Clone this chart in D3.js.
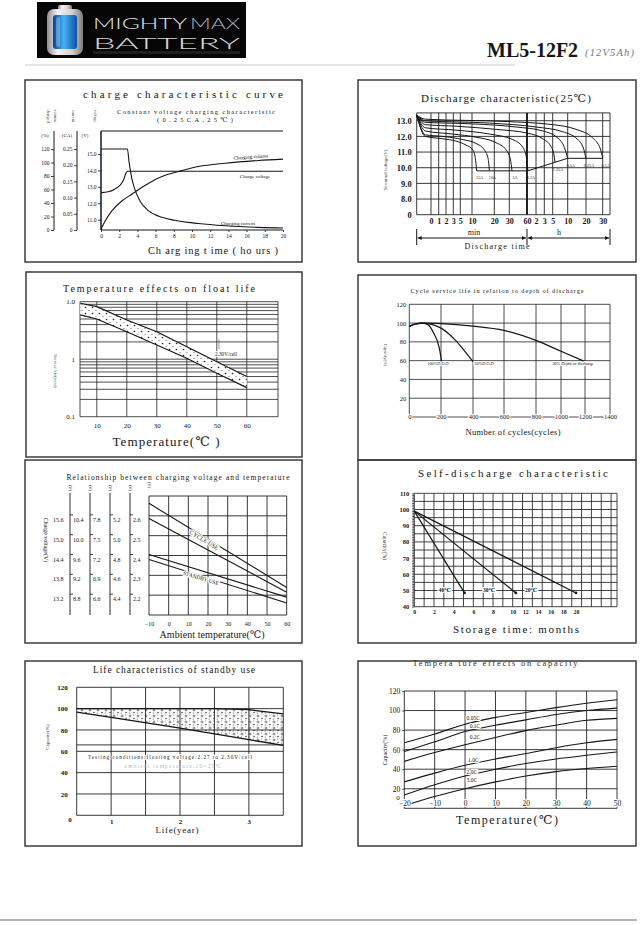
<!DOCTYPE html>
<html>
<head>
<meta charset="utf-8">
<title>ML5-12F2 characteristics</title>
<script src="https://cdn.jsdelivr.net/npm/d3@7"></script>
<style>
  body { margin: 0; background: #fff; }
  svg { display: block; }
</style>
</head>
<body>
<div id="sheet"></div>
<script>
const W = 640, H = 925;
const SERIF = "'Liberation Serif','DejaVu Serif',serif";
const SANS = "Lato,'DejaVu Sans',sans-serif";
const INK = "#161616";

// ------------------ data ------------------

// charge characteristic
const chargeHours = [0, 2, 4, 6, 8, 10, 12, 14, 16, 18, 20];
const chargePctTicks = [0, 20, 40, 60, 80, 100, 120];
const chargeCaTicks = [0, 0.05, 0.10, 0.15, 0.20, 0.25];
const chargeVTicks = [11, 12, 13, 14, 15];
const chargeCurrent = [[0, 0.25], [2.9, 0.25], [3.08, 0.211], [3.38, 0.16], [3.74, 0.124], [4.3, 0.089], [5.2, 0.06], [6.3, 0.043], [8.1, 0.03], [10.7, 0.02], [13.7, 0.013], [17.3, 0.008], [20, 0.006]];
const chargeVoltage = [[0, 12.65], [0.8, 12.7], [1.5, 12.86], [2.1, 13.1], [2.5, 13.45], [2.75, 13.85], [2.9, 13.95], [20, 13.95]];
const chargeVolume = [[0, 1], [0.44, 13], [1.17, 28], [2.28, 43], [3.38, 53], [4.48, 63], [5.58, 72], [7.05, 81], [8.9, 88], [10.7, 94], [13.65, 99], [17.3, 103], [20, 105]];

// discharge characteristic (x in minutes, -1 = axis origin)
const dischargeMinutes = [0, 1, 2, 3, 5, 10, 20, 30, 60, 120, 180, 300, 600, 1200, 1800];
const dischargeTickText = ["0", "1", "2", "3", "5", "10", "20", "30", "60", "2", "3", "5", "10", "20", "30"];
const dischargeVolts = [7, 8, 9, 10, 11, 12, 13];
const dischargeVoltText = ["0", "8.0", "9.0", "10.0", "11.0", "12.0", "13.0"];
const dischargeRates = ["15A", "10A", "5A", "3.2A", "1.25A", "0.5A", "0.25A", "0.1A"];
const dischargeCurves = [
  [[-1, 13.35], [-0.4, 12.0], [1.55, 11.85], [3.76, 11.7], [7.4, 11.45], [10.3, 11.15], [11.5, 10.6], [12.1, 9.8]],
  [[-1, 13.35], [-0.4, 12.1], [1.55, 12.0], [6, 11.8], [11.8, 11.55], [15.5, 11.15], [17.2, 10.6], [17.8, 9.8]],
  [[-1, 13.35], [-0.4, 12.35], [2.9, 12.15], [11.8, 11.95], [21.1, 11.6], [27.8, 11.15], [31.7, 10.55], [34.6, 9.8]],
  [[-1, 13.35], [-0.4, 12.55], [3.76, 12.4], [17.8, 12.15], [35.8, 11.8], [53, 11.3], [58.8, 10.7], [66, 9.8]],
  [[-1, 13.35], [-0.4, 12.75], [3.76, 12.65], [21.1, 12.45], [66, 12.2], [168, 11.85], [276, 11.35], [320, 10.9], [347, 10.35]],
  [[-1, 13.35], [-0.4, 12.9], [10.3, 12.8], [41.5, 12.6], [168, 12.35], [400, 11.9], [533, 11.3], [600, 10.6]],
  [[-1, 13.35], [-0.4, 13.0], [17.8, 12.85], [120, 12.6], [500, 12.3], [927, 11.8], [1124, 11.2], [1200, 10.6]],
  [[-1, 13.35], [-0.4, 13.1], [27.8, 12.95], [300, 12.75], [873, 12.45], [1440, 11.9], [1716, 11.2], [1800, 10.6]]
];

// float life vs temperature
const floatTemps = [10, 20, 30, 40, 50, 60];
const floatLifeTicks = [0.1, 1, 10];
const floatLifeText = ["0.1", "1", "1.0"];
const floatUpper = [[4.5, 9.4], [10, 8.2], [20, 4.8], [30, 3.0], [40, 1.65], [50, 0.9], [60, 0.5]];
const floatLower = [[4.5, 5.9], [10, 5.0], [20, 3.0], [30, 1.77], [40, 1.04], [50, 0.57], [60, 0.32]];

// cycle life vs depth of discharge
const cycleTicks = [0, 200, 400, 600, 800, 1000, 1200, 1400];
const cycleCapTicks = [20, 40, 60, 80, 100, 120];
const dodNames = ["100%D.O.D", "50%D.O.D", "30% Depth of discharge"];
const dodCurves = [
  [[0, 96.5], [40, 99], [73, 100], [115, 98.6], [156, 88.6], [188, 74.5], [204, 59]],
  [[0, 96.5], [40, 99], [80, 100], [188, 95.7], [291, 81.6], [353, 69], [400, 59]],
  [[0, 96.5], [40, 99], [100, 100], [200, 99.5], [400, 96.8], [600, 92.2], [800, 81.6], [1000, 70], [1200, 59]]
];
const dodLabelAt = [[181, 57], [471, 57], [1100, 57]];

// charging voltage vs temperature (per cell)
const ambientTicks = [-10, 0, 10, 20, 30, 40, 50, 60];
const cellCounts = [6, 4, 3, 2, 1];
const perCellVolts = [2.6, 2.5, 2.4, 2.3, 2.2];
const cvCycleHi = [[-10, 2.663], [60, 2.239]];
const cvCycleLo = [[-10, 2.587], [60, 2.215]];
const cvStandbyHi = [[-10, 2.405], [60, 2.19]];
const cvStandbyLo = [[-10, 2.38], [60, 2.161]];

// self discharge
const storageMonths = [0, 2, 4, 6, 8, 10, 12, 14, 16, 18, 20];
const selfCapTicks = [40, 50, 60, 70, 80, 90, 100, 110];
const storageTemps = ["40℃", "30℃", "20℃"];
const selfLines = [[[0, 99], [5.1, 48.5]], [[0, 99], [10.5, 48.5]], [[0, 99], [20, 48.5]]];
const storageLabelAt = [[3.1, 50.3], [7.6, 50.3], [12.9, 50.3]];

// standby life
const lifeYears = [1, 2, 3];
const lifeCapTicks = [0, 20, 40, 60, 80, 100, 120];
const lifeLimit = 66;
const lifeTop = [[0.5, 100], [2.5, 100], [3.0, 99], [3.5, 95]];
const lifeBottom = [[0.5, 96.8], [1, 91.8], [2, 81.8], [3, 70.9], [3.5, 65.6]];

// capacity vs temperature
const capTemps = [-20, -10, 0, 10, 20, 30, 40, 50];
const capTicks = [0, 20, 40, 60, 80, 100, 120];
const capRates = ["0.05C", "0.1C", "0.2C", "1.0C", "2.0C", "3.0C"];
const capCurves = [
  [67, 76, 86, 93, 98, 103, 107.5, 111],
  [58, 68, 78.5, 85, 90.5, 96, 100, 102.5],
  [48, 57, 65, 72.5, 79.5, 85, 90, 92],
  [27, 36, 44, 50.5, 56, 62, 67, 70.5],
  [13.5, 24, 33, 40, 45.8, 50.5, 54.2, 57.6],
  [2.7, 12, 20, 27, 33, 37.5, 40.7, 43]
];
const capLabelAt = [[0.5, 92], [1.5, 84], [1.5, 72.5], [1, 49], [0.5, 37], [0.5, 29]];

// ------------------ helpers ------------------

const svg = d3.select("#sheet").append("svg")
  .attr("width", W).attr("height", H)
  .attr("viewBox", `0 0 ${W} ${H}`);
const defs = svg.append("defs");
svg.append("rect").attr("width", W).attr("height", H).attr("fill", "#fff");
const plain = d3.format("d");

function txt(g, s, x, y, o = {}) {
  const t = g.append("text")
    .attr("x", x).attr("y", y)
    .attr("font-family", o.family || SERIF)
    .attr("font-size", o.size || 7)
    .attr("font-weight", o.bold ? "bold" : null)
    .attr("font-style", o.italic ? "italic" : null)
    .attr("text-anchor", o.anchor || "middle")
    .attr("dominant-baseline", o.baseline || "central")
    .attr("fill", o.fill || INK)
    .text(s);
  if (o.len) t.attr("textLength", o.len).attr("lengthAdjust", o.adjust || "spacing");
  if (o.rot) t.attr("transform", `rotate(${o.rot},${x},${y})`);
  if (o.halo) t.attr("stroke", "#fff").attr("stroke-width", 2.2).attr("paint-order", "stroke");
  return t;
}

function curve(g, sx, sy, pts, o = {}) {
  return g.append("path")
    .attr("d", d3.line().x(d => sx(d[0])).y(d => sy(d[1])).curve(o.curve || d3.curveMonotoneX)(pts))
    .attr("fill", "none")
    .attr("stroke", o.stroke || INK)
    .attr("stroke-width", o.w || 1.1);
}

function grid(g, sx, sy, xs, ys, o = {}) {
  const xr = sx.range(), yr = sy.range();
  const x0 = xr[0], x1 = xr[xr.length - 1], y0 = yr[0], y1 = yr[yr.length - 1];
  g.append("g").selectAll("line").data(xs).join("line")
    .attr("x1", d => sx(d)).attr("x2", d => sx(d))
    .attr("y1", y0).attr("y2", y1)
    .attr("stroke", o.stroke || "#222").attr("stroke-width", o.w || 0.8);
  g.append("g").selectAll("line").data(ys).join("line")
    .attr("x1", x0).attr("x2", x1)
    .attr("y1", d => sy(d)).attr("y2", d => sy(d))
    .attr("stroke", o.stroke || "#222").attr("stroke-width", o.w || 0.8);
}

function styleAxis(sel, size, o = {}) {
  sel.attr("font-family", SERIF).attr("font-size", size);
  sel.select(".domain").remove();
  sel.selectAll(".tick line").attr("stroke", INK).attr("stroke-width", 0.8);
  sel.selectAll(".tick text").attr("fill", INK).attr("font-weight", o.bold ? "bold" : null);
  if (o.halo) sel.selectAll(".tick text").attr("stroke", "#fff").attr("stroke-width", 2.2).attr("paint-order", "stroke");
}

// ------------------ header ------------------

const silver = defs.append("linearGradient").attr("id", "silver").attr("x1", 0).attr("x2", 1);
[["0", "#8d8d8d"], ["0.3", "#f4f4f4"], ["0.7", "#cfcfcf"], ["1", "#7a7a7a"]].forEach(([o, c]) =>
  silver.append("stop").attr("offset", o).attr("stop-color", c));
const blue = defs.append("linearGradient").attr("id", "blue").attr("x1", 0).attr("x2", 1);
[["0", "#0a3f8f"], ["0.45", "#47b4f5"], ["1", "#0b4fa8"]].forEach(([o, c]) =>
  blue.append("stop").attr("offset", o).attr("stop-color", c));

const head = svg.append("g");
head.append("rect").attr("x", 37).attr("y", 2).attr("width", 209).attr("height", 56).attr("fill", "#060606");
head.append("rect").attr("x", 58).attr("y", 5).attr("width", 14).attr("height", 6).attr("rx", 2).attr("fill", "url(#silver)");
head.append("rect").attr("x", 47).attr("y", 9).attr("width", 36).attr("height", 46).attr("rx", 7).attr("fill", "url(#silver)");
head.append("rect").attr("x", 53).attr("y", 15).attr("width", 24).attr("height", 34).attr("rx", 3).attr("fill", "url(#blue)");
head.append("rect").attr("x", 56).attr("y", 17).attr("width", 4).attr("height", 30).attr("rx", 2).attr("fill", "#bfe6ff").attr("opacity", 0.35);
txt(head, "MIGHTY", 93, 29, { size: 16, family: SANS, anchor: "start", baseline: "alphabetic", len: 94, adjust: "spacingAndGlyphs", fill: "#e4e4e4" })
  .attr("font-weight", 300);
txt(head, "MAX", 190, 29, { size: 16, family: SANS, anchor: "start", baseline: "alphabetic", len: 50, adjust: "spacingAndGlyphs", fill: "#a9b4bd" })
  .attr("font-weight", 300);
txt(head, "BATTERY", 93, 48.5, { size: 16, family: SANS, anchor: "start", baseline: "alphabetic", len: 147, adjust: "spacingAndGlyphs", fill: "#d6d6d6" })
  .attr("font-weight", 300);
head.append("rect").attr("x", 93).attr("y", 51).attr("width", 147).attr("height", 3).attr("fill", "#2a2a2a").attr("opacity", 0.7);
txt(head, "ML5-12F2", 487, 57, { size: 20, bold: true, anchor: "start", baseline: "alphabetic" });
txt(head, "(12V5Ah)", 585, 56, { size: 10.5, italic: true, anchor: "start", baseline: "alphabetic", fill: "#7a7a7a", len: 49 });
head.append("line").attr("x1", 25).attr("x2", 515).attr("y1", 65).attr("y2", 65).attr("stroke", "#dcdcdc").attr("stroke-width", 1.5);
svg.append("line").attr("x1", 0).attr("x2", 637).attr("y1", 920).attr("y2", 920).attr("stroke", "#9a9a9a").attr("stroke-width", 1.5);

// panel frames
const frames = [[25, 80, 277, 182], [358, 80, 278, 182], [26, 272, 276, 185], [358, 275, 278, 185],
                [25, 460, 277, 183], [358, 460, 278, 183], [25, 661, 277, 185], [358, 661, 278, 185]];
svg.append("g").selectAll("rect").data(frames).join("rect")
  .attr("x", d => d[0]).attr("y", d => d[1]).attr("width", d => d[2]).attr("height", d => d[3])
  .attr("fill", "none").attr("stroke", "#3c3c3c").attr("stroke-width", 1.5);

// ------------------ 1. charge characteristic ------------------

const p1 = svg.append("g");
const c1x = d3.scaleLinear([0, 20], [101, 283]);
const c1pct = d3.scaleLinear([0, 120], [230, 149]);
const c1ca = d3.scaleLinear([0, 0.25], [230, 149]);
const c1v = d3.scaleLinear([11, 15], [219.7, 154]);
const c1top = 131;

txt(p1, "charge characteristic curve", 183, 94, { size: 11, len: 200 });
txt(p1, "Constant voltage charging characteristic", 196, 111, { size: 6.5, len: 158 });
txt(p1, "(0.25CA,25℃)", 195, 119, { size: 6.5, len: 76 });

p1.append("path")
  .attr("d", `M${c1x(20)},${c1top}H${c1x(0)}V${c1pct(0)}H${c1x(20)}`)
  .attr("fill", "none").attr("stroke", INK).attr("stroke-width", 1);
p1.append("g").attr("transform", `translate(0,${c1pct(0)})`)
  .call(d3.axisBottom(c1x).tickValues(chargeHours).tickSize(2).tickPadding(2))
  .call(styleAxis, 5.5);

[[54, c1pct, chargePctTicks, d => d],
 [77, c1ca, chargeCaTicks, d => d === 0 ? "0" : d.toFixed(2)],
 [101, c1v, chargeVTicks, d => d.toFixed(1)]].forEach(([x, sc, ticks, fmt]) => {
  p1.append("line").attr("x1", x).attr("x2", x).attr("y1", c1top).attr("y2", c1pct(0))
    .attr("stroke", INK).attr("stroke-width", 1);
  p1.append("g").attr("transform", `translate(${x},0)`)
    .call(d3.axisLeft(sc).tickValues(ticks).tickFormat(fmt).tickSize(3).tickPadding(1.5))
    .call(styleAxis, 5.5);
});
txt(p1, "(%)", 45, 135, { size: 5 });
txt(p1, "(CA)", 67, 135, { size: 5 });
txt(p1, "(V)", 85, 135, { size: 5 });
[["charged", 48], ["volume", 55], ["current", 73], ["voltage", 95]].forEach(([s, x]) =>
  txt(p1, s, x, 116, { size: 4.5, rot: 90, fill: "#555" }));

curve(p1, c1x, c1ca, chargeCurrent);
curve(p1, c1x, c1v, chargeVoltage);
curve(p1, c1x, c1pct, chargeVolume);
txt(p1, "Charging volume", 251, 157, { size: 5, rot: -4 });
txt(p1, "Charge voltage", 255, 176, { size: 5 });
txt(p1, "Charging current", 238, 223, { size: 5 });
txt(p1, "Ch arg ing t ime ( ho urs )", 213, 250, { size: 10.5, len: 130 });

// ------------------ 2. discharge characteristic ------------------

const p2 = svg.append("g");
const d2x = d3.scaleLinear()
  .domain([-1, 0, 1, 2, 3, 5, 10, 20, 30, 60, 120, 180, 300, 600, 1200, 1800, 2100])
  .range([416.7, 431, 438.7, 446, 453.3, 460.3, 472, 494.3, 509.3, 527, 536, 544.3, 552.7, 567.7, 586, 602.7, 610]);
const d2y = d3.scaleLinear([7, 13.5], [214.7, 112.9]);

txt(p2, "Discharge characteristic(25℃)", 506, 98, { size: 11, len: 170 });
grid(p2, d2x, d2y, [-1, ...dischargeMinutes, 2100], [...dischargeVolts, 13.5], { w: 0.9 });
p2.append("line").attr("x1", d2x(60)).attr("x2", d2x(60)).attr("y1", d2y(7)).attr("y2", d2y(13.5))
  .attr("stroke", INK).attr("stroke-width", 1.8);

dischargeCurves.forEach(c => curve(p2, d2x, d2y, c, { w: 1 }));
const ends = dischargeCurves.map(c => c[c.length - 1]);
curve(p2, d2x, d2y, ends, { curve: d3.curveLinear, w: 1 });
dischargeRates.forEach((r, i) =>
  txt(p2, r, d2x(ends[i][0]) + 3, d2y(ends[i][1]) + 7, { size: 4.2 }));

p2.append("g").attr("transform", `translate(${d2x(-1)},0)`)
  .call(d3.axisLeft(d2y).tickValues(dischargeVolts).tickFormat((d, i) => dischargeVoltText[i]).tickSize(0).tickPadding(5))
  .call(styleAxis, 8.5, { bold: true });
p2.append("g").attr("transform", `translate(0,${d2y(7)})`)
  .call(d3.axisBottom(d2x).tickValues(dischargeMinutes).tickFormat((d, i) => dischargeTickText[i]).tickSize(0).tickPadding(4))
  .call(styleAxis, 8, { bold: true });
txt(p2, "Terminal voltage(V)", 385, 170, { size: 5, rot: -90, fill: "#333" });

const arr = defs.append("marker").attr("id", "arr").attr("viewBox", "0 0 10 10")
  .attr("refX", 10).attr("refY", 5).attr("markerWidth", 6).attr("markerHeight", 4)
  .attr("orient", "auto-start-reverse");
arr.append("path").attr("d", "M0,0L10,5L0,10z").attr("fill", INK);
[[-1, 60], [60, 2100]].forEach(([a, b]) =>
  p2.append("line").attr("x1", d2x(a) + 1).attr("x2", d2x(b) - 1).attr("y1", 238).attr("y2", 238)
    .attr("stroke", INK).attr("stroke-width", 1)
    .attr("marker-start", "url(#arr)").attr("marker-end", "url(#arr)"));
[-1, 60, 2100].forEach(m =>
  p2.append("line").attr("x1", d2x(m)).attr("x2", d2x(m)).attr("y1", 229).attr("y2", 245)
    .attr("stroke", INK).attr("stroke-width", 1));
txt(p2, "min", 474, 232, { size: 8 });
txt(p2, "h", 559, 232, { size: 8 });
txt(p2, "Discharge time", 497, 246, { size: 8, len: 65 });

// ------------------ 3. float life vs temperature ------------------

const p3 = svg.append("g");
const f3x = d3.scaleLinear([4.4, 70.4], [80, 278]);
const f3y = d3.scaleLog([0.1, 10], [416.7, 301.7]);
const dots = defs.append("pattern").attr("id", "dots").attr("patternUnits", "userSpaceOnUse")
  .attr("width", 7).attr("height", 6);
dots.append("rect").attr("width", 7).attr("height", 6).attr("fill", "#fff");
dots.append("circle").attr("cx", 1.5).attr("cy", 1.5).attr("r", 0.8).attr("fill", "#222");
dots.append("circle").attr("cx", 5).attr("cy", 4.5).attr("r", 0.55).attr("fill", "#555");

txt(p3, "Temperature effects on float life", 159, 288, { size: 10, len: 192 });
const logLines = [0.1, 0.2, 0.3, 0.4, 0.5, 0.6, 0.7, 0.8, 0.9, 1, 2, 3, 4, 5, 6, 7, 8, 9, 10];
grid(p3, f3x, f3y, [4.4, ...floatTemps, 70.4], logLines, { w: 0.8 });
p3.append("path")
  .datum(floatUpper.map((d, i) => [d[0], d[1], floatLower[i][1]]))
  .attr("d", d3.area().x(d => f3x(d[0])).y0(d => f3y(d[2])).y1(d => f3y(d[1])))
  .attr("fill", "url(#dots)");
curve(p3, f3x, f3y, floatUpper, { curve: d3.curveLinear, w: 1.2 });
curve(p3, f3x, f3y, floatLower, { curve: d3.curveLinear, w: 1.2 });
p3.append("line").attr("x1", 219).attr("x2", 219).attr("y1", 339).attr("y2", 349).attr("stroke", "#555").attr("stroke-width", 0.6);
txt(p3, "2.30V/cell", 226, 354, { size: 5.2, halo: true });

p3.append("g").attr("transform", `translate(0,${f3y(0.1)})`)
  .call(d3.axisBottom(f3x).tickValues(floatTemps).tickFormat(plain).tickSize(0).tickPadding(6))
  .call(styleAxis, 7);
p3.append("g").attr("transform", `translate(${f3x(4.4)},0)`)
  .call(d3.axisLeft(f3y).tickValues(floatLifeTicks).tickFormat((d, i) => floatLifeText[i]).tickSize(0).tickPadding(5))
  .call(styleAxis, 7);
txt(p3, "Service life(year)", 55, 371, { size: 4.8, rot: 90, fill: "#444" });
txt(p3, "Temperature(℃ )", 166, 441, { size: 13, len: 107 });

// ------------------ 4. cycle life ------------------

const p4 = svg.append("g");
const c4x = d3.scaleLinear().domain(cycleTicks).range([409.3, 441, 473, 504, 536, 561, 585, 610]);
const c4y = d3.scaleLinear([0, 120], [417, 304.3]);

txt(p4, "Cycle service life in relation to depth of discharge", 497, 290, { size: 6.3, len: 173 });
grid(p4, c4x, c4y, cycleTicks, [0, ...cycleCapTicks], { w: 0.8 });
dodCurves.forEach(c => curve(p4, c4x, c4y, c, { w: 1.2 }));
dodNames.forEach((n, i) =>
  txt(p4, n, c4x(dodLabelAt[i][0]), c4y(dodLabelAt[i][1]), { size: 4.3, halo: true }));
p4.append("g").attr("transform", `translate(${c4x(0)},0)`)
  .call(d3.axisLeft(c4y).tickValues(cycleCapTicks).tickFormat(plain).tickSize(0).tickPadding(3))
  .call(styleAxis, 6.5);
p4.append("g").attr("transform", `translate(0,${c4y(0) - 3})`)
  .call(d3.axisBottom(c4x).tickValues(cycleTicks).tickFormat(plain).tickSize(0).tickPadding(0))
  .call(styleAxis, 6.5, { halo: true });
txt(p4, "Capacity(%)", 385, 355, { size: 4.5, rot: 90, fill: "#444" });
txt(p4, "Number of cycles(cycles)", 513, 432, { size: 8.5, len: 95 });

// ------------------ 5. charging voltage vs temperature ------------------

const p5 = svg.append("g");
const v5x = d3.scaleLinear([-10, 60], [149, 286.7]);
const v5y = d3.scaleLinear([2.1, 2.7], [615, 496]);
const colX = d3.scalePoint().domain(cellCounts).range([50, 130]);

txt(p5, "Relationship between charging voltage and temperature", 178, 477, { size: 7.5, len: 223 });
grid(p5, v5x, v5y, ambientTicks, [2.1, 2.2, 2.3, 2.4, 2.5, 2.6, 2.7], { w: 0.9 });
cellCounts.forEach(n => {
  if (n !== 6) {
    p5.append("line").attr("x1", colX(n)).attr("x2", colX(n)).attr("y1", 493).attr("y2", 615)
      .attr("stroke", INK).attr("stroke-width", 0.9);
    p5.selectAll(null).data(perCellVolts).join("line")
      .attr("x1", colX(n)).attr("x2", colX(n) + 3)
      .attr("y1", d => v5y(d) - 1).attr("y2", d => v5y(d) - 1)
      .attr("stroke", INK).attr("stroke-width", 0.8);
    txt(p5, "(V)", colX(n), 488, { size: 4.5, rot: 90 });
  }
  perCellVolts.forEach(v => txt(p5, (v * n).toFixed(1), colX(n) + 3, v5y(v) + 4, { size: 6, anchor: "start" }));
});
txt(p5, "(V)", v5x(-10), 485, { size: 4.5, rot: 90 });
txt(p5, "Charge voltage(V)", 46, 540, { size: 6, rot: 90 });

[cvCycleHi, cvCycleLo, cvStandbyHi, cvStandbyLo].forEach(l => curve(p5, v5x, v5y, l, { curve: d3.curveLinear, w: 1.1 }));
txt(p5, "CYCLE USE", 204, 540, { size: 6, rot: 31, halo: true });
txt(p5, "STANDBY USE", 201, 578, { size: 5.5, rot: 17, halo: true });

p5.append("g").attr("transform", `translate(0,${v5y(2.1)})`)
  .call(d3.axisBottom(v5x).tickValues(ambientTicks).tickFormat(plain).tickSize(0).tickPadding(7))
  .call(styleAxis, 6);
txt(p5, "Ambient temperature(℃)", 212, 634, { size: 10, len: 105 });

// ------------------ 6. self-discharge ------------------

const p6 = svg.append("g");
const s6x = d3.scaleLinear().domain([0, 10, 20]).range([414.3, 512.7, 576]);
const s6grid = d3.scaleLinear([0, 20.6], [414.3, 617]);
const s6y = d3.scaleLinear([40, 110], [606.7, 493.3]);

txt(p6, "Self-discharge characteristic", 513, 473, { size: 11, len: 190 });
grid(p6, s6grid, s6y, [...d3.range(0, 21), 20.6], d3.range(40, 111, 5), { w: 0.85 });
p6.append("g").attr("transform", `translate(${s6grid(0)},0)`)
  .call(d3.axisLeft(s6y).tickValues(d3.range(40, 111)).tickFormat("").tickSize(2))
  .call(styleAxis, 6);
selfLines.forEach(l => {
  curve(p6, s6x, s6y, l, { curve: d3.curveLinear, w: 1.2 });
  const e = l[l.length - 1];
  p6.append("circle").attr("cx", s6x(e[0])).attr("cy", s6y(e[1])).attr("r", 1.4).attr("fill", INK);
});
storageTemps.forEach((t, i) =>
  txt(p6, t, s6x(storageLabelAt[i][0]), s6y(storageLabelAt[i][1]), { size: 5.5, bold: true, halo: true }));
p6.append("g").attr("transform", `translate(${s6grid(0)},0)`)
  .call(d3.axisLeft(s6y).tickValues(selfCapTicks).tickFormat(plain).tickSize(0).tickPadding(5))
  .call(styleAxis, 6.5, { bold: true });
p6.append("g").attr("transform", `translate(0,${s6y(40)})`)
  .call(d3.axisBottom(s6x).tickValues(storageMonths).tickFormat(plain).tickSize(0).tickPadding(3))
  .call(styleAxis, 5.8, { bold: true });
txt(p6, "Capacity(%)", 385, 546, { size: 5.5, rot: 90, fill: "#333" });
txt(p6, "Storage time: months", 516, 629, { size: 11, len: 126 });

// ------------------ 7. standby life ------------------

const p7 = svg.append("g");
const l7x = d3.scaleLinear([0.5, 3.5], [76.7, 283.3]);
const l7y = d3.scaleLinear([0, 120], [815.3, 687.3]);
const stip = defs.append("pattern").attr("id", "stipple").attr("patternUnits", "userSpaceOnUse")
  .attr("width", 8).attr("height", 6);
stip.append("circle").attr("cx", 2).attr("cy", 2).attr("r", 1).attr("fill", "none").attr("stroke", "#222").attr("stroke-width", 0.55);
stip.append("circle").attr("cx", 6).attr("cy", 4.5).attr("r", 0.75).attr("fill", "#333");
stip.append("circle").attr("cx", 5.5).attr("cy", 1).attr("r", 0.45).attr("fill", "#333");
stip.append("circle").attr("cx", 1.2).attr("cy", 5).attr("r", 0.5).attr("fill", "#333");

txt(p7, "Life characteristics of standby use", 174, 670, { size: 9.5, len: 162 });
grid(p7, l7x, l7y, [0.5, 1, 1.5, 2, 2.5, 3, 3.5], [...lifeCapTicks, lifeLimit], { w: 0.9 });
const lifeBand = lifeTop.map(d => d[0]).concat(lifeBottom.map(d => d[0]))
  .filter((v, i, a) => a.indexOf(v) === i).sort((a, b) => a - b);
const interp = (pts, x) => {
  const i = d3.bisector(d => d[0]).right(pts, x);
  if (i <= 0) return pts[0][1];
  if (i >= pts.length) return pts[pts.length - 1][1];
  const [a, b] = [pts[i - 1], pts[i]];
  return a[1] + (b[1] - a[1]) * (x - a[0]) / (b[0] - a[0]);
};
p7.append("path")
  .datum(lifeBand)
  .attr("d", d3.area().x(d => l7x(d)).y0(d => l7y(interp(lifeBottom, d))).y1(d => l7y(interp(lifeTop, d))))
  .attr("fill", "url(#stipple)");
curve(p7, l7x, l7y, lifeTop, { curve: d3.curveLinear, w: 1.3 });
curve(p7, l7x, l7y, lifeBottom, { curve: d3.curveLinear, w: 1.3 });
txt(p7, "Testing conditions:floating voltage:2.27 to 2.30V/cell", 170, 757, { size: 5.3, len: 164, halo: true });
txt(p7, "ambient temperature:20~25℃", 173, 766, { size: 5.3, len: 97, fill: "#b8b8b8" });

p7.append("g").attr("transform", `translate(${l7x(0.5)},0)`)
  .call(d3.axisLeft(l7y).tickValues(lifeCapTicks.slice(1)).tickFormat(plain).tickSize(0).tickPadding(9))
  .call(styleAxis, 7, { bold: true });
txt(p7, "0", 70, 820, { size: 7, bold: true });
p7.append("g").attr("transform", `translate(0,${l7y(0)})`)
  .call(d3.axisBottom(l7x).tickValues(lifeYears).tickFormat(plain).tickSize(0).tickPadding(4))
  .call(styleAxis, 7, { bold: true });
txt(p7, "Capacity(%)", 47, 737, { size: 5, rot: -90, fill: "#333" });
txt(p7, "Life(year)", 177, 830, { size: 9, len: 43 });

// ------------------ 8. capacity vs temperature ------------------

const p8 = svg.append("g");
const t8x = d3.scaleLinear([-20, 50], [404.3, 617]);
const t8y = d3.scaleLinear([0, 120], [808.3, 691]);

grid(p8, t8x, t8y, capTemps, capTicks, { w: 0.9 });
capCurves.forEach(vals => curve(p8, t8x, t8y, capTemps.map((t, i) => [t, vals[i]]), { w: 1.1 }));
capRates.forEach((r, i) =>
  txt(p8, r, t8x(capLabelAt[i][0]), t8y(capLabelAt[i][1]), { size: 5.5, anchor: "start", halo: true }));
p8.append("g").attr("transform", `translate(${t8x(-20)},0)`)
  .call(d3.axisLeft(t8y).tickValues(capTicks.slice(1)).tickFormat(plain).tickSize(2).tickPadding(2))
  .call(styleAxis, 7.5);
txt(p8, "0", 398, 798, { size: 7 });
p8.append("g").attr("transform", `translate(0,${t8y(0) - 8})`)
  .call(d3.axisBottom(t8x).tickValues(capTemps).tickFormat(plain).tickSize(0).tickPadding(0))
  .call(styleAxis, 7.5, { halo: true });
txt(p8, "Capacity(%)", 385, 750, { size: 6, rot: -90 });
txt(p8, "Temperature(℃)", 507, 820, { size: 12, len: 102 });
txt(p8, "Tempera ture effects on capacity", 495, 663, { size: 8.5, len: 165, fill: "#333" });
</script>
</body>
</html>
